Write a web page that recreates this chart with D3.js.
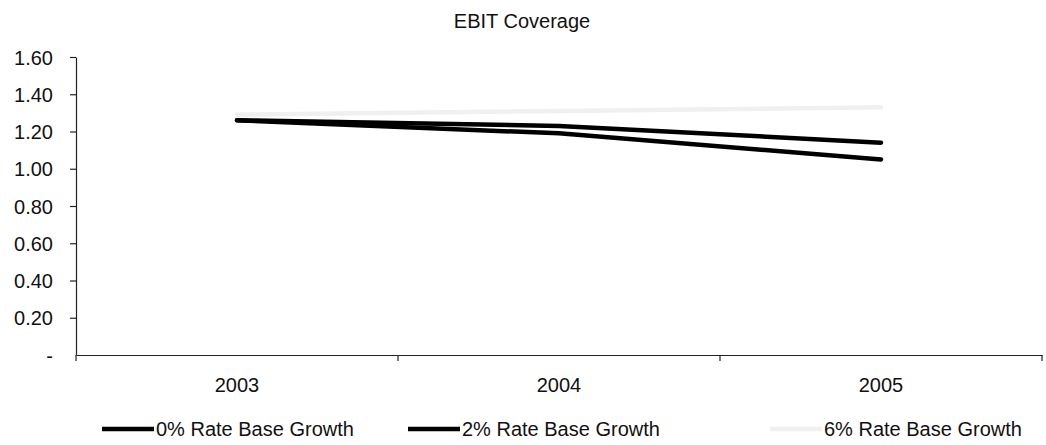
<!DOCTYPE html>
<html>
<head>
<meta charset="utf-8">
<script src="https://cdn.jsdelivr.net/npm/d3@7"></script>
<style>
  html, body { margin: 0; padding: 0; background: #fff; }
  svg { display: block; font-family: "Liberation Sans", Arial, Helvetica, sans-serif; }
</style>
</head>
<body>
<svg id="chart" width="1046" height="445"></svg>
<script>
// EBIT coverage by year under three rate-base growth scenarios
const years = ["2003", "2004", "2005"];
const growth0 = [1.26, 1.19, 1.05];
const growth2 = [1.26, 1.23, 1.14];
const growth6 = [1.29, 1.31, 1.33];
const seriesNames = ["0% Rate Base Growth", "2% Rate Base Growth", "6% Rate Base Growth"];
const yTicks = [0, 0.2, 0.4, 0.6, 0.8, 1.0, 1.2, 1.4, 1.6];
const titleText = "EBIT Coverage";

const seriesColors = ["#000000", "#000000", "#f0f0f0"];
const series = [growth0, growth2, growth6].map((vals, i) => ({
  name: seriesNames[i],
  color: seriesColors[i],
  values: vals.map((v, j) => ({ year: years[j], value: v }))
}));

const svg = d3.select("#chart");
const plot = { left: 76, right: 1042, top: 57, bottom: 355 };

const x = d3.scaleBand().domain(years).range([plot.left, plot.right]).padding(0);
const y = d3.scaleLinear().domain([0, 1.6]).range([plot.bottom, plot.top]);

// title
svg.append("text")
  .attr("x", 522).attr("y", 28)
  .attr("text-anchor", "middle")
  .attr("font-size", 20)
  .attr("fill", "#111")
  .text(titleText);

// y axis
const yAxis = svg.append("g")
  .attr("transform", `translate(${plot.left},0)`)
  .call(d3.axisLeft(y)
    .tickValues(yTicks)
    .tickSize(6)
    .tickSizeOuter(0)
    .tickPadding(17)
    .tickFormat(d => d === 0 ? "-" : d3.format(".2f")(d)));
yAxis.selectAll("text").attr("font-size", 20).attr("fill", "#111").attr("dy", "0.35em");
yAxis.selectAll("line, path").attr("stroke", "#222").attr("stroke-width", 1.2);
yAxis.selectAll(".tick").filter(d => d === 0).select("line").remove();

// x axis: labels centred in each band, tick marks on band boundaries
const xAxis = svg.append("g")
  .attr("transform", `translate(0,${plot.bottom})`)
  .call(d3.axisBottom(x).tickSize(0).tickSizeOuter(0).tickPadding(23));
xAxis.selectAll("text").attr("font-size", 20).attr("fill", "#111").attr("dy", "0.71em");
xAxis.select("path").attr("stroke", "#222").attr("stroke-width", 1.2);

const boundaries = years.map(d => x(d)).concat([x(years[years.length - 1]) + x.bandwidth()]);
xAxis.selectAll(".boundary")
  .data(boundaries)
  .enter().append("line")
  .attr("class", "boundary")
  .attr("x1", d => d).attr("x2", d => d)
  .attr("y1", 0).attr("y2", 6)
  .attr("stroke", "#222").attr("stroke-width", 1.2);

// series lines
const line = d3.line()
  .x(d => x(d.year) + x.bandwidth() / 2)
  .y(d => y(d.value));

svg.append("g").selectAll("path")
  .data(series.slice().reverse())
  .enter().append("path")
  .attr("d", d => line(d.values))
  .attr("fill", "none")
  .attr("stroke", d => d.color)
  .attr("stroke-width", 4.5)
  .attr("stroke-linecap", "round");

// legend
const legendX = [102, 408, 770];
const legend = svg.append("g").selectAll("g")
  .data(series)
  .enter().append("g")
  .attr("transform", (d, i) => `translate(${legendX[i]},429)`);
legend.append("line")
  .attr("x1", 0).attr("x2", 52)
  .attr("y1", 0).attr("y2", 0)
  .attr("stroke", d => d.color)
  .attr("stroke-width", 4.5);
legend.append("text")
  .attr("x", 54).attr("y", 7)
  .attr("font-size", 20)
  .attr("fill", "#111")
  .text(d => d.name);
</script>
</body>
</html>
